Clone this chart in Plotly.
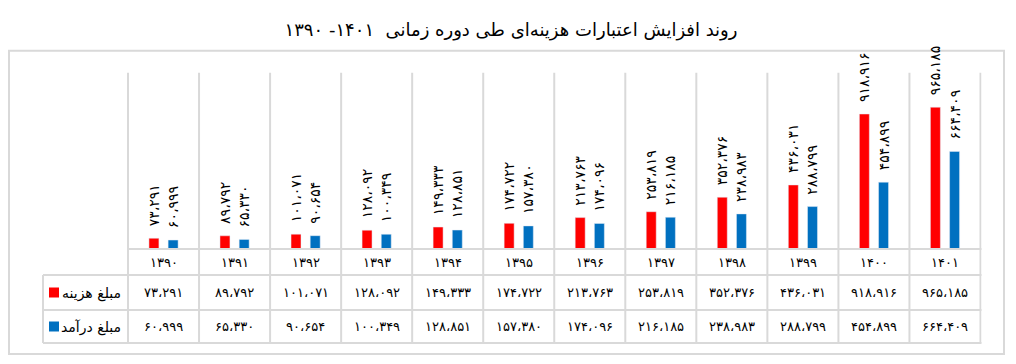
import plotly.graph_objects as go

# ---- data ----
years = [1390, 1391, 1392, 1393, 1394, 1395, 1396, 1397, 1398, 1399, 1400, 1401]
expense = [73291, 89792, 101071, 128092, 149333, 174722, 213763, 253819, 352376, 436031, 918916, 965185]
income = [60999, 65330, 90654, 100349, 128851, 157380, 174096, 216185, 238983, 288799, 454899, 664409]
series_names = ["مبلغ هزینه", "مبلغ درآمد"]
series_colors = ["#ff0000", "#0070c0"]
title_text = "روند افزایش اعتبارات هزینه‌ای طی دوره زمانی  ۱۴۰۱- ۱۳۹۰"

FA = str.maketrans("0123456789", "۰۱۲۳۴۵۶۷۸۹")


def fa_int(n):
    return str(n).translate(FA)


def fa_num(n):
    return f"{n:,}".replace(",", "،").translate(FA)


W, H = 1016, 364
FONT = "DejaVu Sans"
GRID = "#d9d9d9"


def px(x):
    return x / W


def py(y):
    return 1 - y / H


cats = [fa_int(y) for y in years]
x0, x1 = 127, 981.5
ytop, ybase = 72.7, 249
row_lines = [275, 310, 343]
table_left = 43

fig = go.Figure()
for name, vals, col in zip(series_names, [expense, income], series_colors):
    fig.add_trace(go.Bar(
        x=cats, y=vals, name=name, marker_color=col,
        text=["\u00a0\u00a0" + fa_num(v) for v in vals],
        textposition="outside", textangle=-90, constraintext="none",
        textfont=dict(family=FONT, size=14, color="#000000"),
        cliponaxis=False, showlegend=False,
    ))

shapes = []
# outer frame
shapes.append(dict(type="rect", xref="paper", yref="paper", layer="below",
                   x0=px(9), x1=px(1004), y0=py(354), y1=py(50.7),
                   line=dict(color=GRID, width=2)))
# vertical grid/table lines at category boundaries
for i in range(len(cats) + 1):
    shapes.append(dict(type="line", xref="x", yref="paper", layer="below",
                       x0=i - 0.5, x1=i - 0.5, y0=py(row_lines[-1]), y1=py(ytop),
                       line=dict(color=GRID, width=2)))
# baseline
shapes.append(dict(type="line", xref="paper", yref="paper",
                   x0=px(x0), x1=px(x1), y0=py(ybase), y1=py(ybase),
                   line=dict(color=GRID, width=2)))
for ry in row_lines:
    shapes.append(dict(type="line", xref="paper", yref="paper",
                       x0=px(table_left), x1=px(x1), y0=py(ry), y1=py(ry),
                       line=dict(color=GRID, width=2)))
shapes.append(dict(type="line", xref="paper", yref="paper",
                   x0=px(table_left), x1=px(table_left), y0=py(row_lines[-1]), y1=py(row_lines[0]),
                   line=dict(color=GRID, width=2)))

annotations = []
row_centers = [(row_lines[0] + row_lines[1]) / 2, (row_lines[1] + row_lines[2]) / 2]
for r, (name, vals, col) in enumerate(zip(series_names, [expense, income], series_colors)):
    yc = row_centers[r]
    shapes.append(dict(type="rect", xref="paper", yref="paper",
                       x0=px(49), x1=px(59), y0=py(yc + 5), y1=py(yc - 5),
                       fillcolor=col, line=dict(width=0)))
    annotations.append(dict(xref="paper", yref="paper", x=px(123), y=py(yc + 1),
                            xanchor="right", yanchor="middle", showarrow=False,
                            text=name, font=dict(family=FONT, size=14, color="#000000")))
    for c, v in zip(cats, vals):
        annotations.append(dict(xref="x", yref="paper", x=c, y=py(yc),
                                xanchor="center", yanchor="middle", showarrow=False,
                                text=fa_num(v), font=dict(family=FONT, size=13, color="#000000")))
# year row
for c in cats:
    annotations.append(dict(xref="x", yref="paper", x=c, y=py((ybase + row_lines[0]) / 2),
                            xanchor="center", yanchor="middle", showarrow=False,
                            text=c, font=dict(family=FONT, size=13, color="#000000")))

fig.update_layout(
    width=W, height=H,
    margin=dict(l=0, r=0, t=0, b=0),
    paper_bgcolor="white", plot_bgcolor="white",
    barmode="group", bargap=0.46, bargroupgap=0.48,
    title=dict(text=title_text, x=px(511), y=py(30), xanchor="center", yanchor="middle",
               font=dict(family=FONT, size=18, color="#000000")),
    xaxis=dict(domain=[px(x0), px(x1)], showticklabels=False, showgrid=False,
               zeroline=False, showline=False, ticks="", fixedrange=True),
    yaxis=dict(domain=[py(ybase), py(ytop)], range=[0, 1200000], visible=False,
               showgrid=False, zeroline=False, fixedrange=True),
    shapes=shapes, annotations=annotations,
    font=dict(family=FONT),
)

fig.write_html("out.html", config={"displayModeBar": False},
               post_script="document.body.style.margin='0';document.body.style.overflow='hidden';")
